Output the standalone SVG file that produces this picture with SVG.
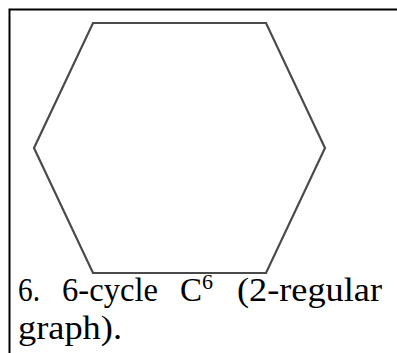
<svg xmlns="http://www.w3.org/2000/svg" width="397" height="353" viewBox="0 0 397 353">
<style>
.frame{stroke:#000;stroke-width:2;fill:none}
.edge{stroke:#4a4a4a;stroke-width:2.2;fill:none;stroke-linejoin:miter}
.cap{font-family:"Liberation Serif","Times New Roman",serif;font-size:33px;fill:#000}
.sup{font-size:20px}
</style>
<rect width="397" height="353" fill="#fff"/>
<g id="frame"><path class="frame" d="M9.5,353 V9.5 H397"/></g>
<g id="connectors">
<path class="edge" d="M93,23 H266 L325,148 L266,273 H93 L34,148 Z"/>
</g>
<g id="caption">
<text class="cap" x="18" y="301" textLength="22" lengthAdjust="spacingAndGlyphs">6.</text>
<text class="cap" x="62" y="301" textLength="96" lengthAdjust="spacingAndGlyphs">6-cycle</text>
<text class="cap" x="180" y="301" textLength="22" lengthAdjust="spacingAndGlyphs">C</text>
<text class="cap sup" x="202" y="289" textLength="11" lengthAdjust="spacingAndGlyphs">6</text>
<text class="cap" x="237" y="301" textLength="145" lengthAdjust="spacingAndGlyphs">(2-regular</text>
<text class="cap" x="18" y="339" textLength="104" lengthAdjust="spacingAndGlyphs">graph).</text>
</g>
</svg>
